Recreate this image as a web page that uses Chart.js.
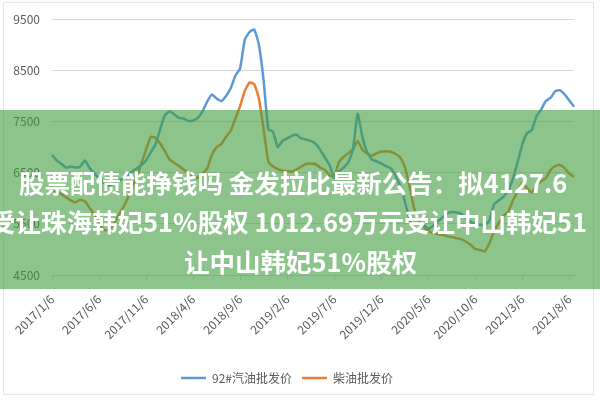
<!DOCTYPE html>
<html>
<head>
<meta charset="utf-8">
<script src="https://cdn.jsdelivr.net/npm/chart.js@4/dist/chart.umd.min.js"></script>
<style>
  html, body { margin: 0; padding: 0; background: #fff; }
  #wrap { position: relative; width: 600px; height: 400px; overflow: hidden; }
  #frame { position: absolute; left: 3px; top: 2px; width: 589px; height: 391px; border: 1px solid #e6e6e6; }
  #cv { position: absolute; left: 0; top: 0; }
  #band { position: absolute; left: 0; top: 110px; width: 600px; height: 179px; background: rgba(63, 157, 63, 0.6); }
  .t { position: absolute; white-space: nowrap; color: #fff; font-family: "Noto Sans CJK SC", sans-serif; font-weight: 700; font-size: 25.5px; line-height: 30px; }
</style>
</head>
<body>
<div id="wrap">
  <div id="frame"></div>
  <canvas id="cv" width="600" height="400"></canvas>
  <div id="band"></div>
  <div class="t" style="left:19px; top:167px;">股票配债能挣钱吗 金发拉比最新公告：拟4127.6</div>
  <div class="t" style="left:-10px; top:206px;">受让珠海韩妃51%股权 1012.69万元受让中山韩妃51</div>
  <div class="t" style="left:184px; top:246px;">让中山韩妃51%股权</div>
</div>
<script>
// x轴显示的日期（每5个月一个）
const tickLabels = ['2017/1/6', '2017/6/6', '2017/11/6', '2018/4/6', '2018/9/6', '2019/2/6',
  '2019/7/6', '2019/12/6', '2020/5/6', '2020/10/6', '2021/3/6', '2021/8/6'];

// 半月一个点：每月6日和21日
const datas = [];
for (let i = 0; i < 112; i++) {
  const m = Math.floor(i / 2);
  const ano = 2017 + Math.floor(m / 12);
  const mes = (m % 12) + 1;
  datas.push(ano + '/' + mes + '/' + (i % 2 === 0 ? 6 : 21));
}

const gasolina = [
  6850, 6740, 6670, 6600, 6620, 6600, 6620, 6740, 6590, 6480,
  6400, 6300, 6250, 6280, 6330, 6380, 6450, 6520, 6580, 6650,
  6740, 6900, 7050, 7350, 7620, 7700, 7640, 7570, 7560, 7510,
  7520, 7570, 7700, 7890, 8030, 7950, 7900, 8000, 8150, 8400,
  8540, 9100, 9250, 9300, 9000, 8300, 7350, 7300, 7000, 7120,
  7170, 7220, 7240, 7170, 7150, 7120, 7070, 6950, 6800, 6650,
  6400, 6520, 6600, 6700, 6950, 7650, 7200, 6900, 6760, 6720,
  6680, 6630, 6590, 6450, 6250, 5950, 5600, 5400, 5400, 5480,
  5400, 5460, 5550, 5620, 5700, 5730, 5720, 5700, 5620, 5540,
  5500, 5480, 5480, 5560, 5880, 5960, 6030, 6150, 6380, 6700,
  7050, 7270, 7330, 7600, 7730, 7900, 7960, 8090, 8110, 8030,
  7910, 7790
];

const diesel = [
  6150, 6120, 6080, 6020, 5960, 5920, 5970, 5940, 5810, 5680,
  5540, 5380, 5380, 5480, 5640, 5800, 5980, 6200, 6420, 6680,
  6950, 7200, 7180, 7070, 6920, 6760, 6690, 6630, 6560, 6500,
  6400, 6400, 6480, 6580, 6850, 7000, 7060, 7200, 7320, 7560,
  7800, 8100, 8260, 8230, 7950, 7350, 6720, 6620, 6570, 6540,
  6530, 6520, 6560, 6620, 6670, 6680, 6670, 6600, 6560, 6450,
  6420, 6700, 6810, 6880, 6960, 7120, 6950, 6880, 6830, 6880,
  6910, 6920, 6910, 6870, 6800, 6620, 6250, 5800, 5560, 5440,
  5360, 5320, 5300, 5280, 5260, 5240, 5220, 5200, 5150, 5090,
  5010, 4990, 4960, 5120, 5350, 5520, 5650, 5740, 5950, 6130,
  6300, 6200, 6110, 6250, 6330, 6390, 6550, 6630, 6650, 6590,
  6480, 6420
];

const cinza = '#595959';

new Chart(document.getElementById('cv').getContext('2d'), {
  type: 'line',
  data: {
    labels: datas,
    datasets: [{
      label: '92#汽油批发价',
      data: gasolina,
      borderColor: '#5b9bd5',
      backgroundColor: '#5b9bd5',
      borderWidth: 2.5,
      pointRadius: 0,
      tension: 0.15
    }, {
      label: '柴油批发价',
      data: diesel,
      borderColor: '#ed7d31',
      backgroundColor: '#ed7d31',
      borderWidth: 2.5,
      pointRadius: 0,
      tension: 0.15
    }]
  },
  options: {
    responsive: false,
    animation: false,
    layout: { padding: { left: 0, right: 26, top: 18, bottom: 6 } },
    plugins: {
      tooltip: { enabled: false },
      legend: {
        position: 'bottom',
        labels: {
          usePointStyle: true,
          pointStyle: 'line',
          pointStyleWidth: 25,
          padding: 10,
          color: cinza,
          font: { family: '"Noto Sans CJK SC", sans-serif', size: 12 }
        }
      }
    },
    scales: {
      x: {
        afterFit: (s) => { s.height = 87; },
        ticks: {
          autoSkip: false,
          minRotation: 45,
          maxRotation: 45,
          padding: 12,
          color: cinza,
          font: { family: '"Noto Sans CJK SC", sans-serif', size: 12 },
          callback: function (v, i) {
            const d = this.getLabelForValue(v);
            return tickLabels.includes(d) ? d : '';
          }
        },
        grid: {
          drawOnChartArea: false,
          tickLength: 5,
          color: (ctx) => (ctx.index % 10 === 0 ? '#d9d9d9' : 'rgba(0,0,0,0)')
        },
        border: { color: '#d9d9d9' }
      },
      y: {
        min: 4500,
        max: 9500,
        afterFit: (s) => { s.width = 52; },
        ticks: {
          stepSize: 1000,
          padding: 12,
          color: cinza,
          font: { family: '"Noto Sans CJK SC", sans-serif', size: 12 },
          callback: (v) => String(v)
        },
        grid: { color: '#d9d9d9', drawTicks: false },
        border: { display: false }
      }
    }
  }
});
</script>
</body>
</html>
